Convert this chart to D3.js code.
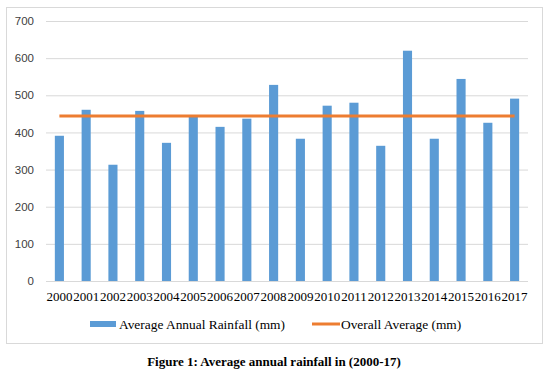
<!DOCTYPE html>
<meta charset="utf-8">
<style>
body { margin: 0; background: #fff; }
svg { display: block; }
.grid line { stroke: #d9d9d9; stroke-width: 1; }
.grid path { display: none; }
.ylab text { font: 11.5px "Liberation Sans", Arial, sans-serif; fill: #404040; }
.xlab text { font: 13px "Liberation Serif", "Times New Roman", serif; fill: #000; }
.legend text { font: 13.4px "Liberation Serif", "Times New Roman", serif; fill: #000; }
.caption { font: bold 13px "Liberation Serif", "Times New Roman", serif; fill: #000; }
</style>
<body>
<svg width="551" height="374"></svg>
<script src="https://d3js.org/d3.v7.min.js"></script>
<script>
var years = ["2000","2001","2002","2003","2004","2005","2006","2007","2008","2009",
             "2010","2011","2012","2013","2014","2015","2016","2017"];
var rainfall = [391, 461, 313, 458, 372, 443, 415, 437, 528, 383,
                472, 480, 364, 620, 383, 544, 426, 491];
var overallAverage = 444;
var yTicks = [0, 100, 200, 300, 400, 500, 600, 700];
var seriesNames = ["Average Annual Rainfall (mm)", "Overall Average (mm)"];

var blue = "#5b9bd5", orange = "#ed7d31";

var svg = d3.select("svg"),
    margin = {top: 21, right: 23, bottom: 93, left: 46},
    width = +svg.attr("width") - margin.left - margin.right,
    height = +svg.attr("height") - margin.top - margin.bottom;

// outer chart frame
svg.append("rect")
    .attr("x", 6.5).attr("y", 7.5)
    .attr("width", 536).attr("height", 336)
    .attr("fill", "#fff")
    .attr("stroke", "#d9d9d9");

var x = d3.scaleBand().domain(years).range([0, width]).paddingInner(0.66).paddingOuter(0.33),
    y = d3.scaleLinear().domain([0, 700]).range([height, 0]);

var g = svg.append("g")
    .attr("transform", "translate(" + margin.left + "," + margin.top + ")");

// gridlines
g.append("g")
    .attr("class", "grid")
    .call(d3.axisLeft(y).tickValues(yTicks).tickSize(-width).tickFormat(""));

// y labels
g.append("g")
    .attr("class", "ylab")
    .call(d3.axisLeft(y).tickValues(yTicks).tickSize(0).tickPadding(12))
    .call(function(a) { a.select(".domain").remove(); });

// x labels
g.append("g")
    .attr("class", "xlab")
    .attr("transform", "translate(0," + height + ")")
    .call(d3.axisBottom(x).tickSize(0).tickPadding(11))
    .call(function(a) { a.select(".domain").remove(); });

// bars
g.selectAll(".bar")
  .data(years)
  .enter().append("rect")
    .attr("class", "bar")
    .attr("x", function(d) { return x(d); })
    .attr("y", function(d, i) { return y(rainfall[i]); })
    .attr("width", x.bandwidth())
    .attr("height", function(d, i) { return height - y(rainfall[i]); })
    .attr("fill", blue);

// overall average line
var line = d3.line()
    .x(function(d) { return x(d) + x.bandwidth() / 2; })
    .y(function() { return y(overallAverage); });

g.append("path")
    .datum(years)
    .attr("d", line)
    .attr("fill", "none")
    .attr("stroke", orange)
    .attr("stroke-width", 3);

// legend
var legend = svg.append("g").attr("class", "legend");
legend.append("rect")
    .attr("x", 90).attr("y", 321)
    .attr("width", 26).attr("height", 6)
    .attr("fill", blue);
legend.append("text")
    .attr("x", 119).attr("y", 329)
    .text(seriesNames[0]);
legend.append("line")
    .attr("x1", 312).attr("x2", 340)
    .attr("y1", 324).attr("y2", 324)
    .attr("stroke", orange).attr("stroke-width", 3);
legend.append("text")
    .attr("x", 341).attr("y", 329)
    .text(seriesNames[1]);

svg.append("text")
    .attr("class", "caption")
    .attr("x", 274)
    .attr("y", 366)
    .attr("text-anchor", "middle")
    .text("Figure 1: Average annual rainfall in (2000-17)");
</script>
</body>
